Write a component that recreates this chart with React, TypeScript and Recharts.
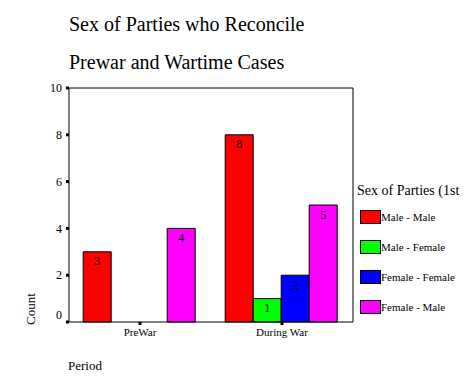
import { Bar, BarChart, LabelList, Legend, XAxis, YAxis } from "recharts";

const periods = ["PreWar", "During War"];
const maleMale = [3, 8];
const maleFemale = [null, 1];
const femaleFemale = [null, 2];
const femaleMale = [4, 5];
const yTicks = [0, 2, 4, 6, 8, 10];

const series = [
  { key: "mm", name: "Male - Male", color: "#ff0000", values: maleMale },
  { key: "mf", name: "Male - Female", color: "#00ff00", values: maleFemale },
  { key: "ff", name: "Female - Female", color: "#0000ff", values: femaleFemale },
  { key: "fm", name: "Female - Male", color: "#ff00ff", values: femaleMale },
];

const data = periods.map((p, i) => {
  const row: Record<string, string | number | null> = { period: p };
  series.forEach((s) => (row[s.key] = s.values[i]));
  return row;
});

const FONT = "'Liberation Serif', 'Times New Roman', serif";

const YTick = (props: any) => {
  const { x, y, payload } = props;
  const shift = payload.value === 0 ? -7 : 0;
  return (
    <text x={x} y={y + shift} dy="0.35em" textAnchor="end" fontSize={12} fontFamily={FONT} fill="#000">
      {payload.value}
    </text>
  );
};

const LegendBox = () => (
  <div style={{ fontFamily: FONT, color: "#000" }}>
    <div style={{ fontSize: 14, height: 22, lineHeight: "22px", whiteSpace: "nowrap" }}>Sex of Parties (1st</div>
    {series.map((s) => (
      <div key={s.key} style={{ display: "flex", alignItems: "center", height: 30, marginLeft: 3 }}>
        <div style={{ width: 19, height: 12, background: s.color, border: "1px solid #000" }} />
        <span style={{ fontSize: 11, whiteSpace: "nowrap" }}>{s.name}</span>
      </div>
    ))}
  </div>
);

const App = () => {
  return (
    <div style={{ position: "absolute", left: 0, top: 0, width: 473, height: 378, background: "#fff" }}>
      <BarChart
        width={473}
        height={378}
        data={data}
        margin={{ top: 87, right: 119, bottom: 0, left: 0 }}
        barCategoryGap="10%"
        barGap={0}
      >
        <text x={69} y={31} fontSize={20} fontFamily={FONT} fill="#000">
          Sex of Parties who Reconcile
        </text>
        <text x={69} y={69} fontSize={20} fontFamily={FONT} fill="#000">
          Prewar and Wartime Cases
        </text>
        <text x={35} y={309} fontSize={13} fontFamily={FONT} fill="#000" textAnchor="middle" transform="rotate(-90 35 309)">
          Count
        </text>
        <text x={68} y={370} fontSize={13} fontFamily={FONT} fill="#000">
          Period
        </text>
        <XAxis
          dataKey="period"
          height={56}
          axisLine={{ stroke: "#000" }}
          tickLine={{ stroke: "#000", strokeWidth: 3 }}
          tickSize={3}
          tickMargin={3}
          tick={{ fontSize: 11, fontFamily: FONT, fill: "#000" }}
        />
        <XAxis xAxisId="top" orientation="top" dataKey="period" height={1} tick={false} tickLine={false} axisLine={{ stroke: "#000" }} />
        <YAxis
          width={69}
          domain={[0, 10]}
          ticks={yTicks}
          interval={0}
          axisLine={{ stroke: "#000" }}
          tickLine={{ stroke: "#000", strokeWidth: 3 }}
          tickSize={3}
          tickMargin={4}
          tick={<YTick />}
        />
        <YAxis yAxisId="right" orientation="right" width={1} domain={[0, 10]} tick={false} tickLine={false} axisLine={{ stroke: "#000" }} />
        <Legend
          layout="vertical"
          align="center"
          verticalAlign="middle"
          content={<LegendBox />}
          wrapperStyle={{ position: "absolute", left: 357, top: 180, width: 116 }}
        />
        {series.map((s) => (
          <Bar key={s.key} dataKey={s.key} name={s.name} fill={s.color} stroke="#000" strokeWidth={1} isAnimationActive={false}>
            <LabelList dataKey={s.key} position="insideTop" offset={5} fontSize={12} fontFamily={FONT} fill="#000" />
          </Bar>
        ))}
      </BarChart>
    </div>
  );
};

export default App;
